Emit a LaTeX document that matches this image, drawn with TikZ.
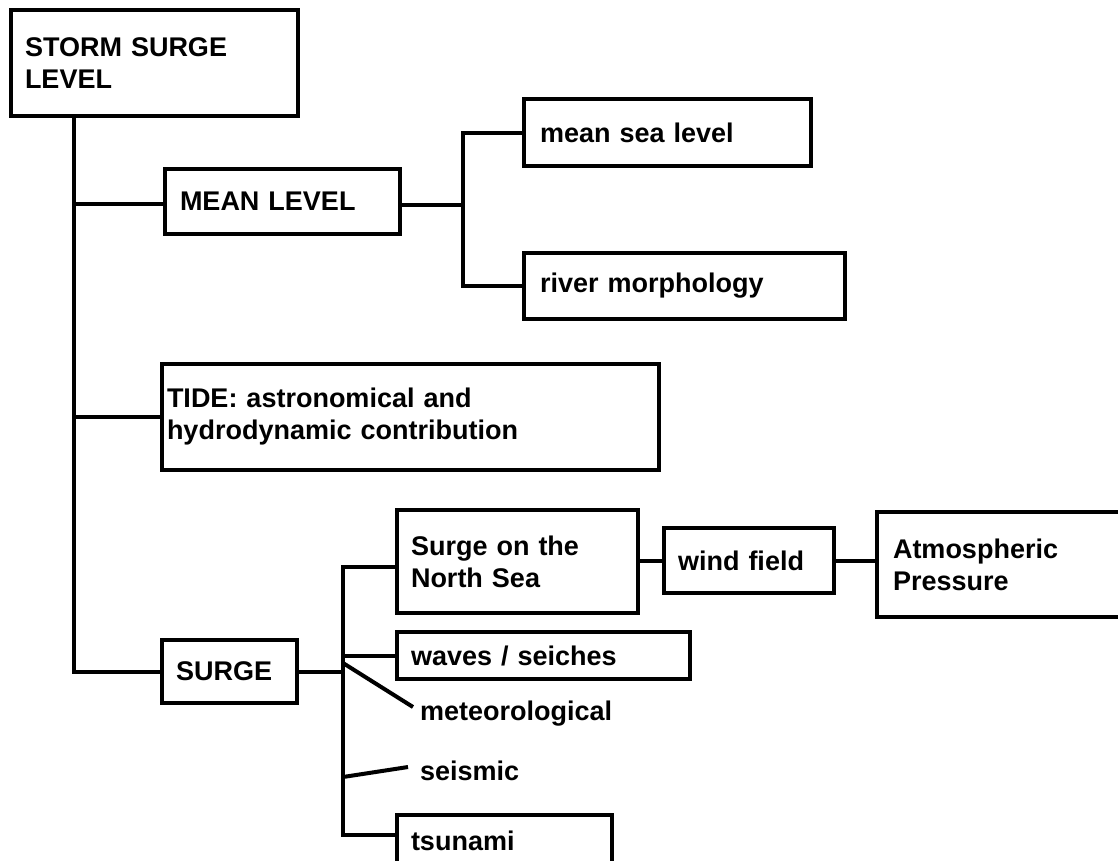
\documentclass[tikz,border=0pt]{standalone}
\usepackage{fontspec}
\setmainfont{Liberation Sans}
\begin{document}
\begin{tikzpicture}[x=1pt,y=-1pt,line width=4pt,
  box/.style={draw, rectangle, anchor=north west, outer sep=0pt, align=left,
    inner ysep=0pt, font=\bfseries\fontsize{27}{32}\selectfont},
  lbl/.style={anchor=base west, inner sep=0pt, font=\bfseries\fontsize{27}{32}\selectfont}]
\clip (0,0) rectangle (1118,860);
% boxes
\node[box, minimum width=287pt, minimum height=106pt, text width=259pt, inner xsep=14pt] (storm) at (11,10) {STORM SURGE\\LEVEL};
\node[box, minimum width=235pt, minimum height=65pt, text width=205pt, inner xsep=15pt] (mean) at (165,169) {MEAN LEVEL};
\node[box, minimum width=287pt, minimum height=67pt, text width=255pt, inner xsep=16pt] (msl) at (524,99) {mean sea level};
\node[box, minimum width=321pt, minimum height=66pt, text width=289pt, inner xsep=16pt] (river) at (524,253) {river morphology};
\node[box, minimum width=497pt, minimum height=106pt, text width=487pt, inner xsep=5pt] (tide) at (162,364) {TIDE: astronomical and\\hydrodynamic contribution};
\node[box, minimum width=135pt, minimum height=63pt, text width=107pt, inner xsep=14pt] (surge) at (162,640) {SURGE};
\node[box, minimum width=241pt, minimum height=103pt, text width=213pt, inner xsep=14pt] (north) at (397,510) {Surge on the\\North Sea};
\node[box, minimum width=170pt, minimum height=65pt, text width=142pt, inner xsep=14pt] (wind) at (664,528) {wind field};
\node[box, minimum width=260pt, minimum height=105pt, text width=228pt, inner xsep=16pt] (atm) at (877,512) {Atmospheric\\Pressure};
\node[box, minimum width=293pt, minimum height=47pt, text width=265pt, inner xsep=14pt] (waves) at (397,632) {waves / seiches};
\node[box, minimum width=215pt, minimum height=52pt, text width=187pt, inner xsep=14pt] (tsunami) at (397,815) {tsunami};
\node[lbl] (meteo) at (418,720) {meteorological};
\node[lbl] (seis) at (418,780) {seismic};
% helper coordinates
\coordinate (mbus) at (463,0);
\coordinate (sbus) at (343,0);
\coordinate (mj) at (343,663);
\coordinate (sj) at (343,777);
\coordinate (tsline) at ([yshift=-20pt]tsunami.north west);
% trunk
\draw (storm.south west) ++(63,0) coordinate (trunk) |- (surge.west);
\draw (trunk |- 0,204) -- (mean.west |- 0,204);
\draw (trunk |- tide.west) -- (tide.west);
% mean level branch
\draw (mean.east |- 0,205) -- (mbus |- 0,205);
\draw (msl.west) -| (mbus |- river.west) -- (river.west);
% surge branch
\draw (surge.east) -- (surge.east -| sbus);
\draw ([yshift=-5pt]north.west) -| (sbus |- tsline) -- (tsline);
\draw (sbus |- waves.west) -- (waves.west);
\draw (mj) -- ([xshift=-5pt,yshift=13pt]meteo.base west);
\draw (sj) -- ([xshift=-10pt,yshift=13pt]seis.base west);
\draw (wind.west -| north.east) -- (wind.west);
\draw (wind.east) -- (wind.east -| atm.west);
\end{tikzpicture}
\end{document}
